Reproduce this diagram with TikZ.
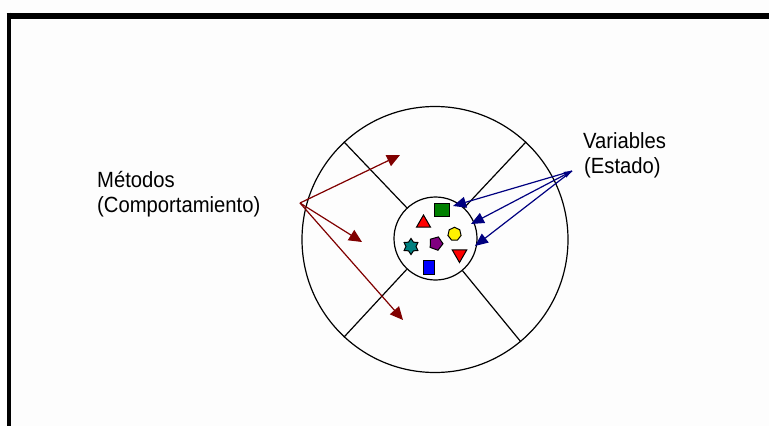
\documentclass[tikz,border=0pt]{standalone}
\usepackage{fontspec}
\setmainfont{Liberation Sans}[FakeStretch=0.92]
\usetikzlibrary{shapes.geometric,arrows.meta}
\definecolor{dred}{HTML}{800000}
\definecolor{dblue}{HTML}{000080}
\definecolor{dgreen}{HTML}{008000}
\definecolor{tealc}{HTML}{008080}
\definecolor{purp}{HTML}{800080}
\definecolor{bgc}{HTML}{FDFDFD}
\tikzset{
  ring/.style={circle, draw=black, line width=1.2pt, inner sep=0pt},
  divider/.style={draw=black, line width=1.2pt},
  lbl/.style={inner sep=0pt, anchor=base west, font=\fontsize{22}{25}\selectfont},
  redarrow/.style={draw=dred, line width=1.2pt, -{Triangle[length=13pt,width=12pt]}},
  bluearrow/.style={draw=dblue, line width=1.2pt, -{Triangle[length=13pt,width=11pt]}},
  item/.style={draw=black, line width=1pt, inner sep=0pt},
}
\begin{document}
\begin{tikzpicture}[x=1pt,y=-1pt]
\fill[bgc] (0,0) rectangle (769,426);
\useasboundingbox (0,0) rectangle (769,426);
% frame
\draw[line width=6.3pt] (6.7,15.8) -- (769,15.8);
\draw[line width=4.3pt] (8.8,12.7) -- (8.8,426);
% circles
\node[ring, minimum size=266pt] (outer) at (435,239.5) {};
\node[ring, minimum size=83pt] (inner) at (435.5,238.5) {};
\draw[divider] (inner.133) -- (outer.133);
\draw[divider] (inner.47) -- (outer.47);
\draw[divider] (inner.227) -- (outer.227);
\draw[divider] (inner.-50) -- (outer.-50);
% items inside
\node[item, fill=dgreen, minimum width=15pt, minimum height=13pt] (sq) at (441.5,209.5) {};
\node[item, fill=red, regular polygon, regular polygon sides=3, minimum size=16pt] (tri) at (423.5,223) {};
\node[item, fill=yellow, regular polygon, regular polygon sides=7, minimum size=13.5pt] (yel) at (454.5,234) {};
\node[item, fill=tealc, star, star points=6, star point ratio=1.6, minimum size=16pt] (stt) at (411,246.5) {};
\node[item, fill=purp, regular polygon, regular polygon sides=5, minimum size=14pt, rotate=-20] (pur) at (436,243.5) {};
\node[item, fill=red, regular polygon, regular polygon sides=3, shape border rotate=180, minimum size=17pt] (itri) at (459.5,254) {};
\node[item, fill=blue, minimum width=11pt, minimum height=14pt] (bsq) at (428.5,267) {};
% labels
\node[lbl] (met1) at (97,187) {Métodos};
\node[lbl] (met2) at (97,212) {(Comportamiento)};
\node[lbl] (var1) at (583,148) {Variables};
\node[lbl] (var2) at (584,173) {(Estado)};
% red arrows
\coordinate (ms) at (300,203);
\coordinate (mt1) at (400,155);
\coordinate (mt2) at (362,242);
\coordinate (mt3) at (403,320);
\draw[redarrow] (ms) -- (mt1);
\draw[redarrow] (ms) -- (mt2);
\draw[redarrow] (ms) -- (mt3);
% blue arrows
\coordinate (vs) at (572,171);
\coordinate (vt1) at (453,206);
\coordinate (vt2) at (471,224);
\coordinate (vt3) at (475,246);
\draw[bluearrow] (vs) -- (vt1);
\draw[draw=dblue, line width=1.2pt, {Triangle[length=8pt,width=6pt]}-{Triangle[length=13pt,width=11pt]}] (vs) -- (vt2);
\draw[bluearrow] (vs) -- (vt3);
\end{tikzpicture}
\end{document}
